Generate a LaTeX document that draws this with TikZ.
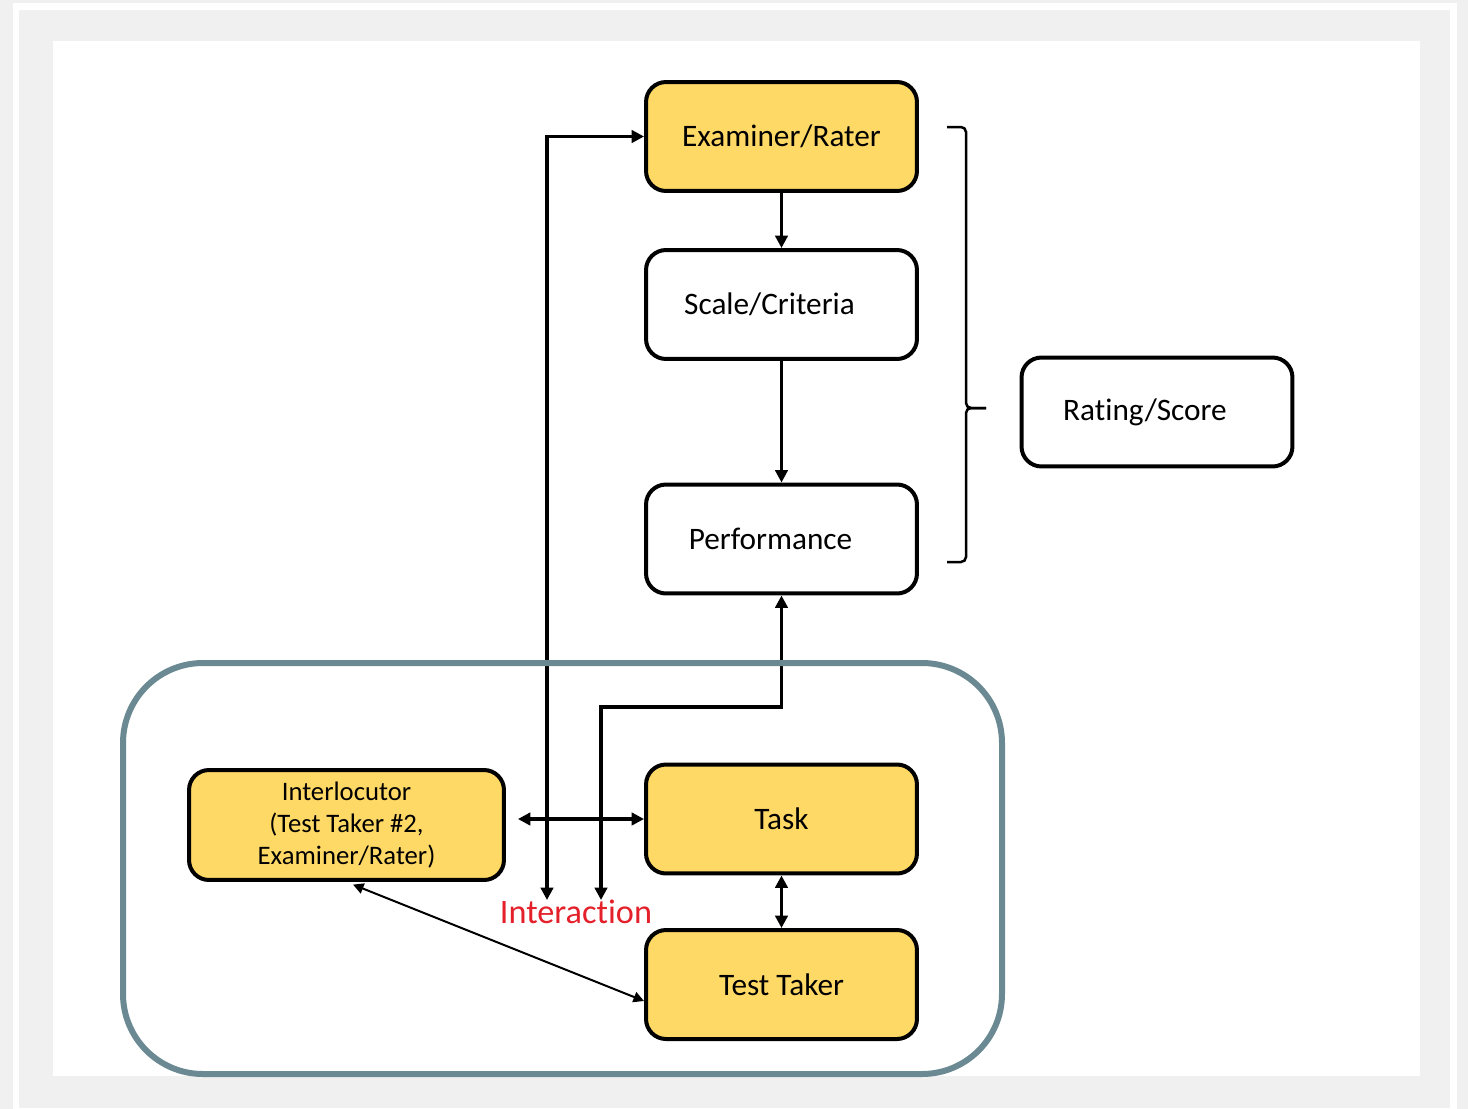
\documentclass[tikz,border=0pt]{standalone}
\usepackage{fontspec}
\setmainfont{Carlito}[Ligatures=NoCommon]
\usetikzlibrary{arrows.meta}
\definecolor{boxyellow}{RGB}{255,217,102}
\definecolor{zoneblue}{RGB}{106,137,146}
\definecolor{pagegray}{RGB}{240,240,240}
\definecolor{interred}{RGB}{228,32,42}
\tikzset{
box/.style={draw,line width=0.08cm,rounded corners=0.4cm,minimum width=5.42cm,minimum height=2.18cm,inner sep=0pt,font=\fontsize{17.8}{20}\selectfont},
conn/.style={line width=0.07cm,-{Triangle[length=7pt,width=7pt]}},
both/.style={conn,{Triangle[length=7pt,width=7pt]}-{Triangle[length=7pt,width=7pt]}},
}
\begin{document}
\begin{tikzpicture}[x=0.02cm,y=-0.02cm]
\fill[pagegray] (0,0) rectangle (1468,1109);
\fill[white] (13,3) rectangle (1457,1109);
\fill[pagegray] (19,10) rectangle (1450,1108);
\fill[white] (53,41) rectangle (1420,1076);
\node[box,fill=boxyellow] (ex) at(781.5,136.5){Examiner/Rater};
\node[box,fill=white] (sc) at(781.5,304.5){Scale/Criteria\kern0.48cm};
\node[box,fill=white] (pf) at(781.5,539){Performance\kern0.44cm};
\node[box,fill=white] (rs) at(1157,412){Rating/Score\kern0.48cm};
\node[box,fill=boxyellow] (tk) at(781.5,819){Task};
\node[box,fill=boxyellow] (tt) at(781.5,984.5){Test Taker};
\node[box,fill=boxyellow,minimum width=6.3cm,minimum height=2.2cm,align=center,font=\fontsize{15.2}{18.2}\selectfont] (il) at(346.5,825){Interlocutor\\(Test Taker \#2,\\Examiner/Rater)};
\node[text=interred,font=\fontsize{19.5}{22}\selectfont] (ia) at(576,912){Interaction};
\coordinate (pa) at(547,900);
\coordinate (pb) at(601,900);
\coordinate (bend) at(601,707);
% links
\draw[conn] (ex.south) -- (sc.north);
\draw[conn] (sc.south) -- (pf.north);
\draw[both] (pa) |- (ex.west);
\draw[both] (pb) -- (bend) -| (pf.south);
\draw[both,shorten <=0.24cm] (il.east |- tk.west) -- (tk.west);
\draw[both] (tk.south) -- (tt.north);
\draw[line width=0.04cm,{Triangle[length=6pt,width=6pt]}-{Triangle[length=6pt,width=6pt]},shorten <=0.14cm] (il.south) -- ([yshift=-0.33cm]tt.west);
% brace
\draw[line width=0.05cm,rounded corners=0.1cm] (947,127) -| (966,408) -- (986,408);
\draw[line width=0.05cm,rounded corners=0.1cm] (986,408) -- (966,408) |- (947,562);
% zone
\draw[zoneblue,line width=0.12cm,rounded corners=1.6cm] (123,663) rectangle (1002,1074);
\end{tikzpicture}
\end{document}
